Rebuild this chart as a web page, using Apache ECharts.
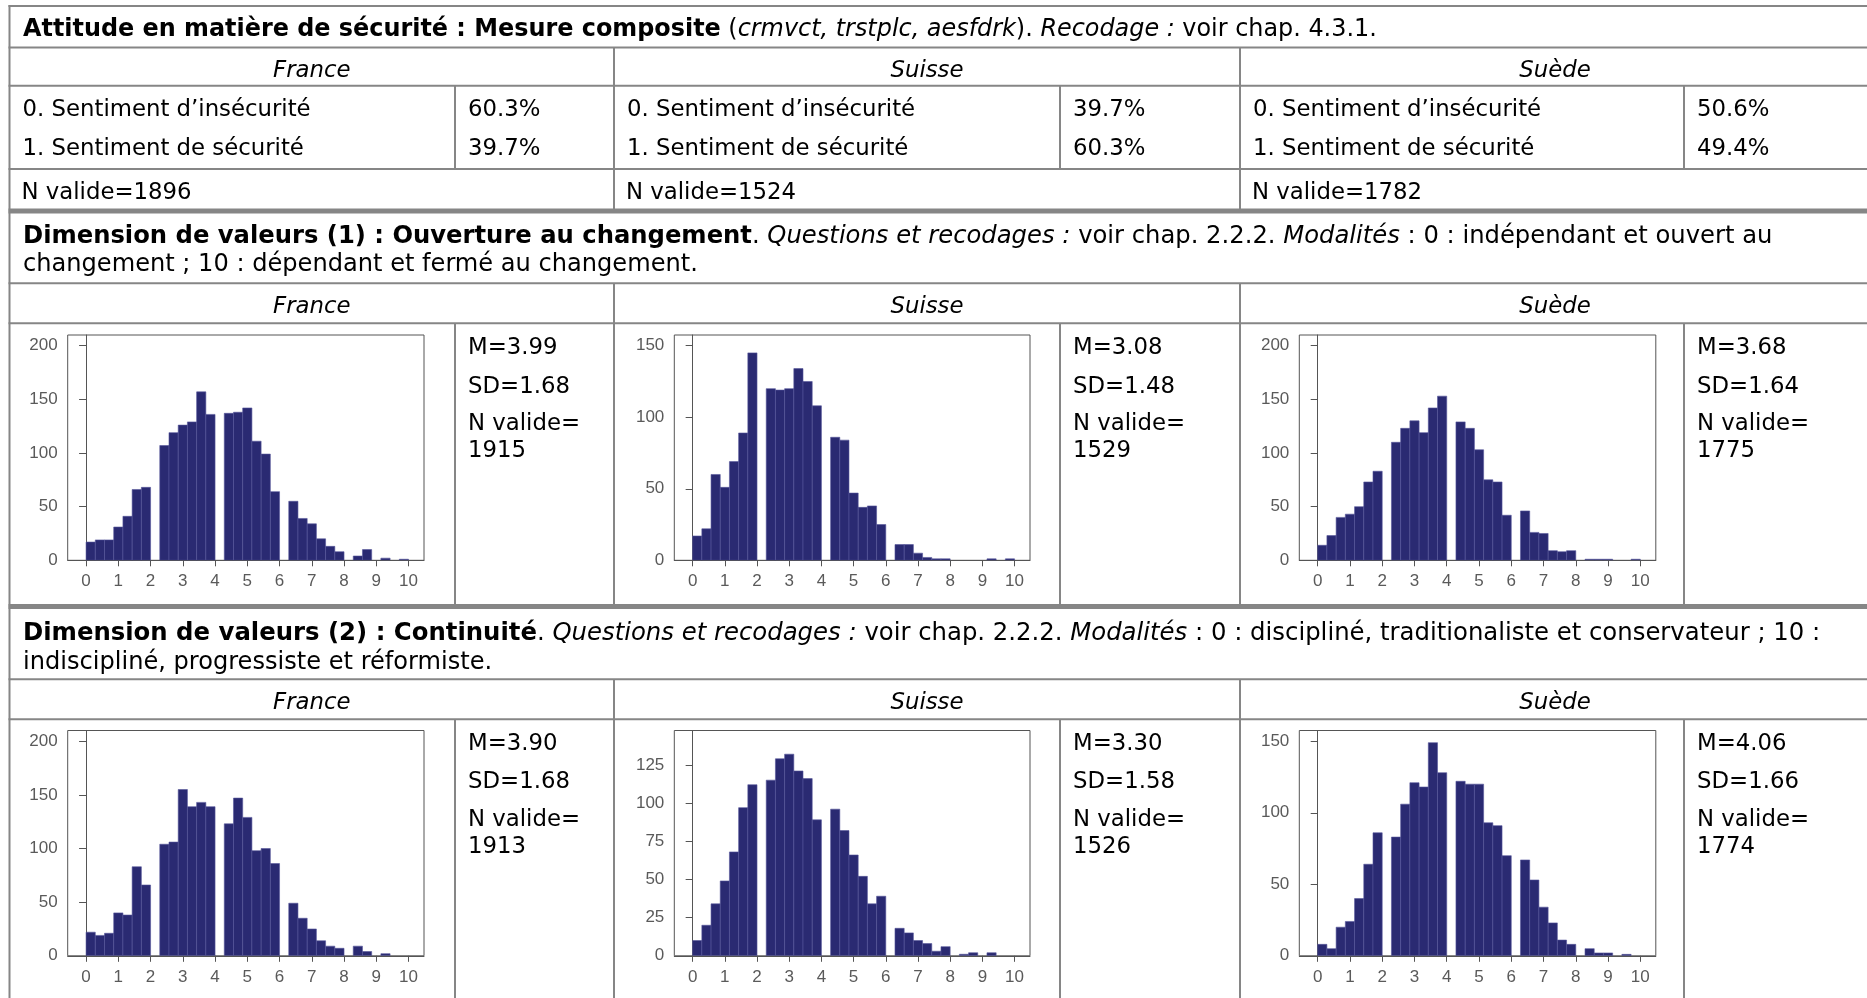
<!DOCTYPE html>
<html><head><meta charset="utf-8">
<script src="https://cdn.jsdelivr.net/npm/echarts@6/dist/echarts.min.js"></script>
<style>html,body{margin:0;padding:0;background:#fff;overflow:hidden}#c{width:1867px;height:998px}</style>
</head><body><div id="c"></div>
<script>
// ---------- data ----------
const countries = ['France', 'Suisse', 'Suède'];
const securityLabels = ['0. Sentiment d’insécurité', '1. Sentiment de sécurité'];
const securityPct = [['60.3%', '39.7%'], ['39.7%', '60.3%'], ['50.6%', '49.4%']];
const securityN = [1896, 1524, 1782];

const ouvertureM = ['3.99', '3.08', '3.68'];
const ouvertureSD = ['1.68', '1.48', '1.64'];
const ouvertureN = ['1915', '1529', '1775'];
const continuiteM = ['3.90', '3.30', '4.06'];
const continuiteSD = ['1.68', '1.58', '1.66'];
const continuiteN = ['1913', '1526', '1774'];

// counts per bin (35 bins of width 2/7 on the 0–10 scale)
const ouvFrance = [17,19,19,31,41,66,68,0,107,119,126,129,157,136,0,137,138,142,111,99,64,0,55,39,34,20,13,8,0,4,10,0,2,0,1];
const ouvSuisse = [17,22,60,51,69,89,145,0,120,119,120,134,125,108,0,86,84,47,37,38,25,0,11,11,5,2,1,1,0,0,0,0,1,0,1];
const ouvSuede  = [14,23,40,43,50,73,83,0,110,123,130,119,142,153,0,129,123,103,75,73,42,0,46,26,25,9,8,9,0,1,1,1,0,0,1];
const conFrance = [22,19,21,40,38,83,66,0,104,106,155,139,143,139,0,123,147,129,98,100,86,0,49,35,25,14,9,7,0,9,4,0,2,0,0];
const conSuisse = [10,20,34,49,68,97,112,0,115,129,132,121,116,89,0,96,82,66,52,34,39,0,18,15,10,8,3,6,0,1,2,0,2,0,0];
const conSuede  = [8,5,20,24,40,64,86,0,83,106,121,118,149,128,0,122,120,120,93,91,70,0,67,53,34,23,11,8,0,5,2,2,0,1,0];

const xTicks = [0,1,2,3,4,5,6,7,8,9,10];
const yTicksOuv = [[0,50,100,150,200],[0,50,100,150],[0,50,100,150,200]];
const yTicksCon = [[0,50,100,150,200],[0,25,50,75,100,125],[0,50,100,150]];
const yMaxOuv = [210, 157.5, 210];
const yMaxCon = [210, 147.5, 157.5];
const binWidth = 2 / 7;

// ---------- layout ----------
const FONT = 'DejaVu Sans';
const FS = 22.8;     // cell text
const LINE = '#868686';
const colL = [9.5, 614, 1240];
const colV = [455, 1060, 1684];
const colR = [614, 1240, 1870];
function mkRich(fs) {
  return {
    r: {fontFamily: FONT, fontSize: fs, fill: '#000'},
    b: {fontFamily: FONT, fontSize: fs, fontWeight: 'bold', fill: '#000'},
    i: {fontFamily: FONT, fontSize: fs, fontStyle: 'italic', fill: '#000'}
  };
}
const graphics = [];
function txt(x, base, text, align, fs) {
  fs = fs || FS;
  graphics.push({type: 'text', x: x, y: base - 5, silent: true, z: 10,
    style: {text: text, rich: mkRich(fs), fontFamily: FONT, fontSize: fs, fill: '#000',
      align: align || 'left', verticalAlign: 'middle'}});
}
function hline(y, w) {
  graphics.push({type: 'line', silent: true, z: 5, shape: {x1: 8.5, y1: y, x2: 1867, y2: y},
    style: {stroke: LINE, lineWidth: w || 2}});
}
function vline(x, y1, y2) {
  graphics.push({type: 'line', silent: true, z: 5, shape: {x1: x, y1: y1, x2: x, y2: y2},
    style: {stroke: LINE, lineWidth: 2}});
}

// horizontal lines
hline(6); hline(47.6); hline(85.7); hline(169); hline(211, 5);
hline(283.3); hline(323.3); hline(606.5, 5); hline(679.3); hline(719.3);
// vertical lines
vline(9.5, 5, 998);
[614, 1240].forEach(x => { vline(x, 47.6, 211); vline(x, 283.3, 606.5); vline(x, 679.3, 998); });
colV.forEach(x => { vline(x, 85.7, 169); vline(x, 323.3, 606.5); vline(x, 719.3, 998); });

// texts
txt(23, 35, '{b|Attitude en matière de sécurité : Mesure composite}{r| (}{i|crmvct, trstplc, aesfdrk}{r|). }{i|Recodage :}{r| voir chap. 4.3.1.}', 'left', 23.9);
countries.forEach((c, k) => {
  const cx = (colL[k] + colR[k]) / 2;
  txt(cx, 76, '{i|' + c + '}', 'center');
  txt(cx, 312.3, '{i|' + c + '}', 'center');
  txt(cx, 708.3, '{i|' + c + '}', 'center');
  txt(colL[k] + 13, 115.5, '{r|' + securityLabels[0] + '}');
  txt(colL[k] + 13, 154, '{r|' + securityLabels[1] + '}');
  txt(colV[k] + 13, 115.5, '{r|' + securityPct[k][0] + '}');
  txt(colV[k] + 13, 154, '{r|' + securityPct[k][1] + '}');
  txt(colL[k] + 12, 198.3, '{r|N valide=' + securityN[k] + '}');
  // stats
  txt(colV[k] + 13, 353.3, '{r|M=' + ouvertureM[k] + '}');
  txt(colV[k] + 13, 391.7, '{r|SD=' + ouvertureSD[k] + '}');
  txt(colV[k] + 13, 429.5, '{r|N valide=}');
  txt(colV[k] + 13, 456.5, '{r|' + ouvertureN[k] + '}');
  txt(colV[k] + 13, 748.7, '{r|M=' + continuiteM[k] + '}');
  txt(colV[k] + 13, 787, '{r|SD=' + continuiteSD[k] + '}');
  txt(colV[k] + 13, 825, '{r|N valide=}');
  txt(colV[k] + 13, 852, '{r|' + continuiteN[k] + '}');
});
txt(23, 241.5, '{b|Dimension de valeurs (1) : Ouverture au changement}{r|. }{i|Questions et recodages :}{r| voir chap. 2.2.2. }{i|Modalités}{r| : 0 : indépendant et ouvert au}', 'left', 24.25);
txt(23, 270, '{r|changement ; 10 : dépendant et fermé au changement.}', 'left', 24.1);
txt(23, 639, '{b|Dimension de valeurs (2) : Continuité}{r|. }{i|Questions et recodages :}{r| voir chap. 2.2.2. }{i|Modalités}{r| : 0 : discipliné, traditionaliste et conservateur ; 10 :}', 'left', 24.35);
txt(23, 667.5, '{r|indiscipliné, progressiste et réformiste.}', 'left', 24.1);

// ---------- histograms ----------
const hists = [
  {data: ouvFrance, left: 67.7, width: 356.3, top: 335, max: yMaxOuv[0], ticks: yTicksOuv[0]},
  {data: ouvSuisse, left: 674.3, width: 355.7, top: 335, max: yMaxOuv[1], ticks: yTicksOuv[1]},
  {data: ouvSuede,  left: 1299.3, width: 356.5, top: 335, max: yMaxOuv[2], ticks: yTicksOuv[2]},
  {data: conFrance, left: 67.7, width: 356.3, top: 730.5, max: yMaxCon[0], ticks: yTicksCon[0]},
  {data: conSuisse, left: 674.3, width: 355.7, top: 730.5, max: yMaxCon[1], ticks: yTicksCon[1]},
  {data: conSuede,  left: 1299.3, width: 356.5, top: 730.5, max: yMaxCon[2], ticks: yTicksCon[2]}
];
const AX = '#555';
const labelStyle = {fontFamily: 'Liberation Sans', fontSize: 17, color: '#5a5a5a'};
const grid = [], xAxis = [], yAxis = [], series = [];
hists.forEach((h, i) => {
  grid.push({left: h.left, top: h.top, width: h.width, height: 225.3, show: true,
    borderColor: AX, borderWidth: 1, backgroundColor: 'transparent', containLabel: false});
  xAxis.push({type: 'value', gridIndex: i, min: -0.57, max: 10.48,
    axisLine: {show: true, lineStyle: {color: AX, width: 1}},
    axisTick: {show: true, length: 6, customValues: xTicks, lineStyle: {color: AX}},
    axisLabel: Object.assign({margin: 13, customValues: xTicks}, labelStyle),
    splitLine: {show: false}});
  yAxis.push({type: 'value', gridIndex: i, min: 0, max: h.max,
    axisLine: {show: true, lineStyle: {color: AX, width: 1}},
    axisTick: {show: true, length: 7, customValues: h.ticks, lineStyle: {color: AX}},
    axisLabel: Object.assign({margin: 10, customValues: h.ticks}, labelStyle),
    splitLine: {show: false}});
  series.push({type: 'custom', xAxisIndex: i, yAxisIndex: i, clip: true,
    data: h.data.map((v, k) => [k * binWidth, (k + 1) * binWidth, v]),
    encode: {x: [0, 1], y: 2},
    renderItem: function (params, api) {
      const v = api.value(2);
      if (!v) return null;
      const p0 = api.coord([api.value(0), v]);
      const p1 = api.coord([api.value(1), 0]);
      return {type: 'rect', shape: {x: p0[0], y: p0[1], width: p1[0] - p0[0], height: p1[1] - p0[1]},
        style: {fill: '#2a2a72', stroke: '#55559a', lineWidth: 0.6}};
    }});
});

const chart = echarts.init(document.getElementById('c'), null, {renderer: 'canvas'});
chart.setOption({animation: false, backgroundColor: '#fff', grid, xAxis, yAxis, series, graphic: {elements: graphics}});
</script>
</body></html>
